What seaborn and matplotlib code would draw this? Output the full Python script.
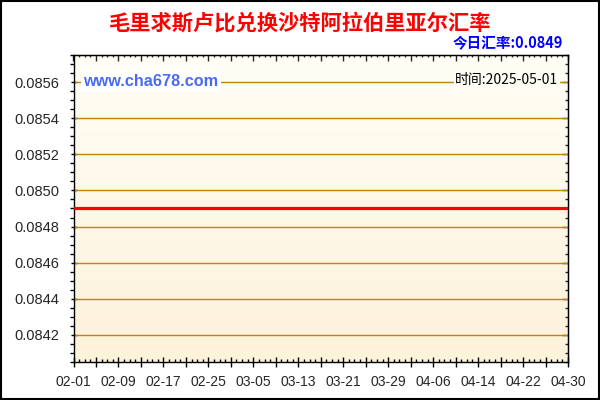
import pandas as pd
import numpy as np
import matplotlib
matplotlib.use("Agg")
import matplotlib.pyplot as plt
import matplotlib.dates as mdates
import seaborn as sns
from matplotlib.colors import LinearSegmentedColormap
from matplotlib.ticker import FixedLocator, FuncFormatter, MultipleLocator, FormatStrFormatter

# data
dates = ["2025-02-01", "2025-02-09", "2025-02-17", "2025-02-25", "2025-03-05", "2025-03-13",
         "2025-03-21", "2025-03-29", "2025-04-06", "2025-04-14", "2025-04-22", "2025-04-30"]
rates = [0.0849, 0.0849, 0.0849, 0.0849, 0.0849, 0.0849,
         0.0849, 0.0849, 0.0849, 0.0849, 0.0849, 0.0849]
title = "毛里求斯卢比兑换沙特阿拉伯里亚尔汇率"
today_label = "今日汇率:0.0849"
date_label = "时间:2025-05-01"
site_label = "www.cha678.com"
y_low, y_high = 0.08405, 0.08575

df = pd.DataFrame({"date": pd.to_datetime(dates), "rate": rates})

sns.set_style("white")
plt.rcParams['font.family'] = ['Liberation Sans', 'DejaVu Sans']
cjk = ['Noto Sans CJK SC', 'DejaVu Sans']

fig = plt.figure(figsize=(6, 4), dpi=100)
ax = fig.add_axes([0.1225, 0.095, 0.8242, 0.7675])

# background gradient
bg = LinearSegmentedColormap.from_list("bg", ["#FDF2DA", "#FFFEF6"])
ax.imshow(np.linspace(0, 1, 256).reshape(-1, 1), cmap=bg, origin='lower',
          extent=[0, 1, 0, 1], transform=ax.transAxes, aspect='auto', zorder=0)

sns.lineplot(data=df, x="date", y="rate", color="red", linewidth=2.3, ax=ax, zorder=3)

start, end = df["date"].iloc[0], df["date"].iloc[-1]
ax.set_xlim(start, end)
ax.set_ylim(y_low, y_high)
ax.set_xlabel("")
ax.set_ylabel("")

# x ticks: major every 4 days (labelled every 8), minor every day
major_x = mdates.date2num(pd.date_range(start, end, freq="4D"))
minor_x = mdates.date2num(pd.date_range(start, end, freq="D"))
ax.xaxis.set_major_locator(FixedLocator(major_x))
ax.xaxis.set_minor_locator(FixedLocator(minor_x))
label_days = set(mdates.date2num(df["date"]).round().astype(int))
ax.xaxis.set_major_formatter(FuncFormatter(
    lambda v, p: mdates.num2date(v).strftime("%m-%d") if int(round(v)) in label_days else ""))

ax.yaxis.set_major_locator(MultipleLocator(0.0002))
ax.yaxis.set_minor_locator(MultipleLocator(0.00005))
ax.yaxis.set_major_formatter(FormatStrFormatter("%.4f"))

# seaborn's white style hides bottom/left ticks, switch them back on
ax.tick_params(which='both', bottom=True, left=True, top=False, right=False)
ax.tick_params(axis='x', which='major', direction='inout', length=6.5, width=1,
               labelsize=10, pad=6, color='black')
ax.tick_params(axis='x', which='minor', direction='in', length=2, width=1, color='black')
ax.tick_params(axis='y', which='major', direction='inout', length=4.5, width=1,
               labelsize=10.5, pad=8, color='black')
ax.tick_params(axis='y', which='minor', direction='out', length=3, width=1, color='black')

ax.grid(False)
for v in np.arange(0.0842, 0.08565, 0.0002):
    ax.axhline(v, color='#BB8800', linewidth=1, zorder=1)

# top and right ticks point inward
top = ax.secondary_xaxis('top')
top.xaxis.set_major_locator(FixedLocator(major_x))
top.xaxis.set_minor_locator(FixedLocator(minor_x))
top.tick_params(which='both', top=True, labeltop=False)
top.tick_params(which='major', direction='in', length=4, width=1)
top.tick_params(which='minor', direction='in', length=1.5, width=1)
right = ax.secondary_yaxis('right')
right.yaxis.set_major_locator(MultipleLocator(0.0002))
right.yaxis.set_minor_locator(MultipleLocator(0.00005))
right.tick_params(which='both', right=True, labelright=False)
right.tick_params(which='major', direction='in', length=4.5, width=1)
right.tick_params(which='minor', direction='in', length=2, width=1)

for sp in ax.spines.values():
    sp.set_color('black')
    sp.set_linewidth(1)

# texts
fig.text(0.5, 1 - 23 / 400, title, ha='center', va='center', color='red',
         fontsize=15.3, fontweight='bold', family=cjk)
fig.text(563 / 600, 1 - 43 / 400, today_label, ha='right', va='center', color='blue',
         fontsize=10.5, fontweight='bold', family=cjk)
ax.text(0.02, 0.915, site_label, transform=ax.transAxes, ha='left', va='center',
        color='#4A6BF0', fontsize=11.7, fontweight='bold', zorder=5,
        bbox=dict(facecolor='white', edgecolor='none', pad=2))
ax.text(0.98, 0.918, date_label, transform=ax.transAxes, ha='right', va='center',
        color='black', fontsize=10, family=cjk, zorder=5,
        bbox=dict(facecolor='#FFFEF5', edgecolor='none', pad=1))

# outer frame
fig.patches.append(plt.Rectangle((0.002, 0.003), 0.996, 0.994, transform=fig.transFigure,
                                 fill=False, edgecolor='black', linewidth=1.5))

plt.savefig("out.png", dpi=100)
